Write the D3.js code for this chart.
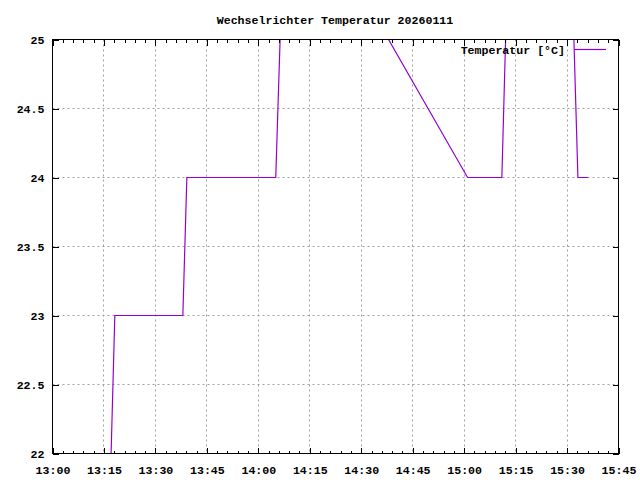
<!DOCTYPE html>
<html>
<head>
<meta charset="utf-8">
<script src="https://cdn.jsdelivr.net/npm/d3@7"></script>
<style>
  body { margin: 0; background: #fff; }
  svg text { font-family: "Liberation Mono", "DejaVu Sans Mono", monospace; font-weight: bold; font-size: 11.6px; fill: #000; }
</style>
</head>
<body>
<svg id="chart" width="640" height="480"></svg>
<script>
const title = "Wechselrichter Temperatur 20260111";
const seriesName = "Temperatur [°C]";
const times = ["13:17:05", "13:18:10", "13:38:00", "13:39:10", "14:05:05", "14:08:00", "15:01:00", "15:11:00", "15:13:10", "15:30:50", "15:33:10", "15:36:10"];
const temps = [22, 23, 23, 24, 24, 26.3, 24, 24, 26, 26, 24, 24];
const xDomain = ["13:00:00", "15:45:00"];
const yDomain = [22, 25];
const yTicks = [22, 22.5, 23, 23.5, 24, 24.5, 25];

const parse = d3.timeParse("%H:%M:%S");
const data = times.map((t, i) => ({ t: parse(t), v: temps[i] }));

const L = 52.5, R = 618.5, T = 39.5, B = 453.5;
const svg = d3.select("#chart");
const x = d3.scaleTime().domain(xDomain.map(parse)).range([L, R]);
const y = d3.scaleLinear().domain(yDomain).range([B, T]);

const majorX = d3.timeMinute.every(15).range(x.domain()[0], d3.timeMinute.offset(x.domain()[1], 1));
const minorX = d3.timeMinute.every(3).range(x.domain()[0], d3.timeMinute.offset(x.domain()[1], 1));

// grid
const grid = svg.append("g").attr("stroke", "#a0a0a0").attr("stroke-width", 1).attr("stroke-dasharray", "2,3");
majorX.forEach(d => {
  const xx = Math.round(x(d) - 0.5) + 0.5;
  if (xx > L + 1 && xx < R - 1) grid.append("line").attr("x1", xx).attr("x2", xx).attr("y1", T).attr("y2", B);
});
yTicks.forEach(v => {
  const yy = Math.round(y(v) - 0.5) + 0.5;
  if (yy > T + 1 && yy < B - 1) grid.append("line").attr("x1", L).attr("x2", R).attr("y1", yy).attr("y2", yy);
});

// line
const clipId = "plotclip";
svg.append("clipPath").attr("id", clipId).append("rect").attr("x", L).attr("y", T).attr("width", R - L).attr("height", B - T);
svg.append("path").datum(data)
  .attr("clip-path", `url(#${clipId})`)
  .attr("fill", "none").attr("stroke", "#9400d3").attr("stroke-width", 1.2)
  .attr("d", d3.line().x(d => x(d.t)).y(d => y(d.v)));

// axes
const fmt = d3.timeFormat("%H:%M");
const axBottom = svg.append("g").attr("transform", `translate(0,${B})`)
  .call(d3.axisBottom(x).tickValues(majorX).tickFormat(fmt).tickSizeInner(-6).tickSizeOuter(0).tickPadding(12));
svg.append("g").attr("transform", `translate(0,${B})`)
  .call(d3.axisBottom(x).tickValues(minorX).tickFormat("").tickSizeInner(-3).tickSizeOuter(0));
svg.append("g").attr("transform", `translate(0,${T})`)
  .call(d3.axisTop(x).tickValues(majorX).tickFormat("").tickSizeInner(-6).tickSizeOuter(0));
svg.append("g").attr("transform", `translate(0,${T})`)
  .call(d3.axisTop(x).tickValues(minorX).tickFormat("").tickSizeInner(-3).tickSizeOuter(0));
const axLeft = svg.append("g").attr("transform", `translate(${L},0)`)
  .call(d3.axisLeft(y).tickValues(yTicks).tickFormat(d3.format("")).tickSizeInner(-6).tickSizeOuter(0).tickPadding(8));
svg.append("g").attr("transform", `translate(${R},0)`)
  .call(d3.axisRight(y).tickValues(yTicks).tickFormat("").tickSizeInner(-6).tickSizeOuter(0));

svg.selectAll(".domain").remove();
svg.selectAll(".tick line").attr("stroke", "#000").attr("shape-rendering", "crispEdges");
axBottom.attr("font-family", null).attr("font-size", null);
axLeft.attr("font-family", null).attr("font-size", null);

// border
svg.append("rect").attr("x", L).attr("y", T).attr("width", R - L).attr("height", B - T)
  .attr("fill", "none").attr("stroke", "#000").attr("stroke-width", 1).attr("shape-rendering", "crispEdges");

// title
svg.append("text").attr("x", 335).attr("y", 24).attr("text-anchor", "middle").text(title);

// legend
svg.append("text").attr("x", 565).attr("y", 54).attr("text-anchor", "end").text(seriesName);
svg.append("line").attr("x1", 574).attr("x2", 606).attr("y1", 49.5).attr("y2", 49.5)
  .attr("stroke", "#9400d3").attr("stroke-width", 1.2);
</script>
</body>
</html>
